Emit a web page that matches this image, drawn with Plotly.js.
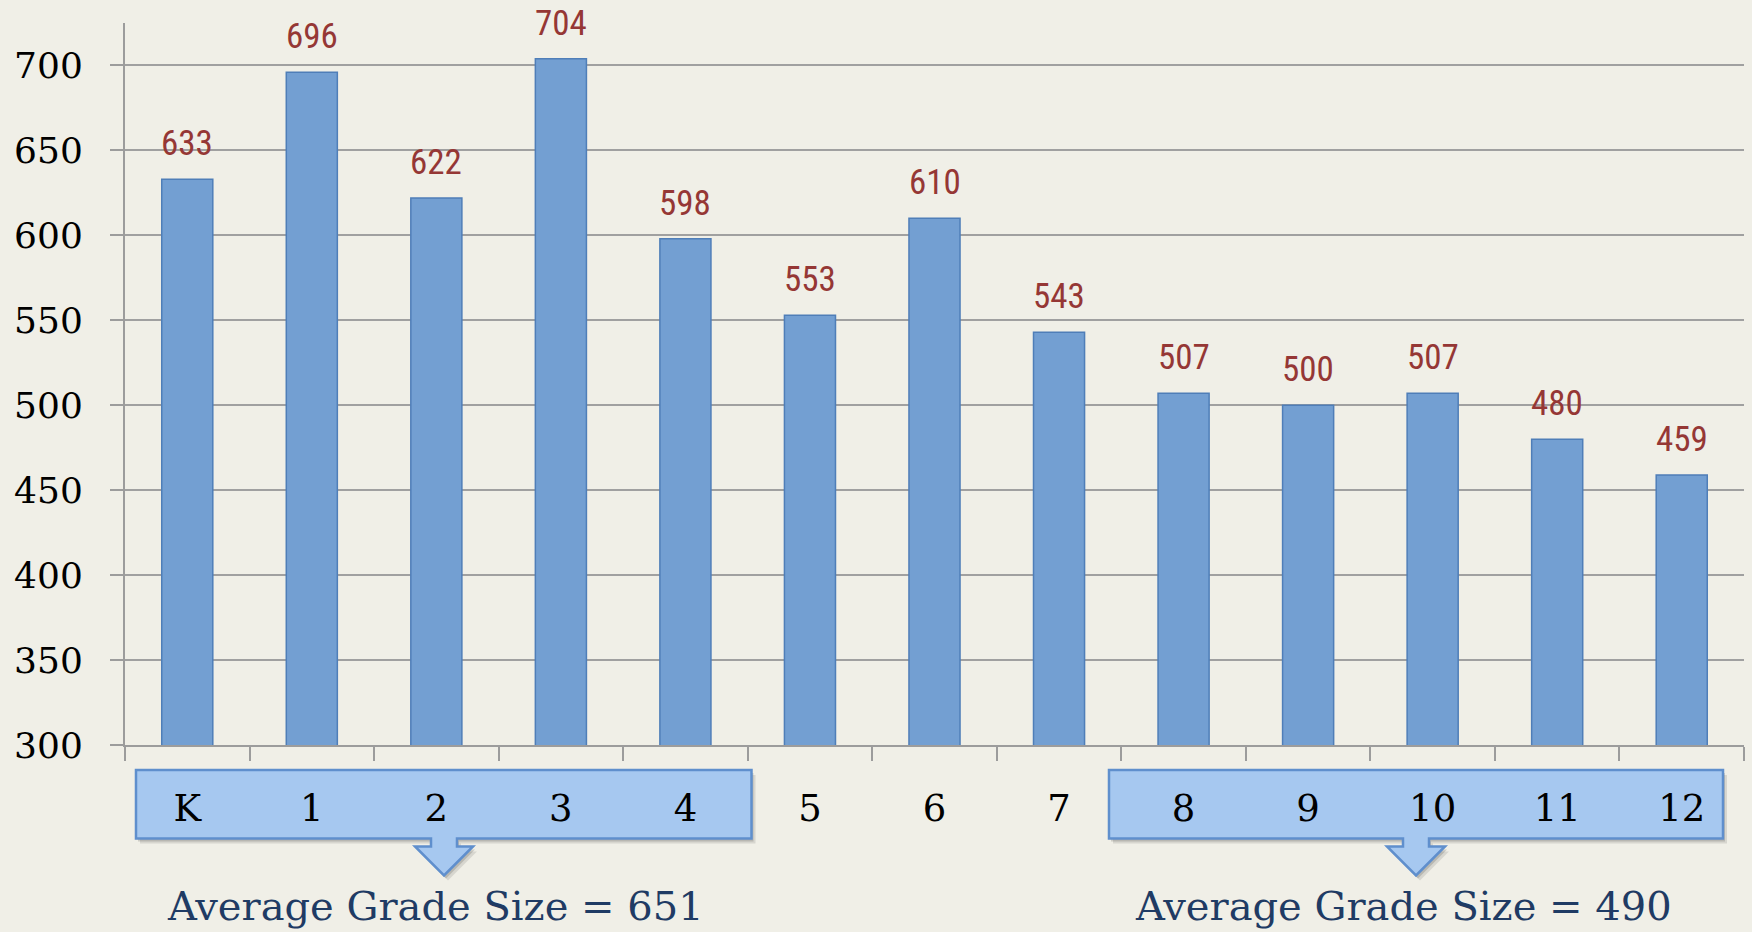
<!DOCTYPE html>
<html>
<head>
<meta charset="utf-8">
<script src="https://cdn.plot.ly/plotly-3.0.1.min.js"></script>
<style>
  html, body { margin: 0; padding: 0; background: #F0EFE7; }
  #chart { width: 1752px; height: 932px; }
</style>
</head>
<body>
<div id="chart"></div>
<script>
// ---- data ----
const grades = ['K', '1', '2', '3', '4', '5', '6', '7', '8', '9', '10', '11', '12'];
const enrollment = [633, 696, 622, 704, 598, 553, 610, 543, 507, 500, 507, 480, 459];
const groupLabels = ['Average Grade Size = 651', 'Average Grade Size = 490'];

// ---- layout geometry (pixels) ----
const W = 1752, H = 932;
const M = { l: 125, r: 8, t: 23, b: 187 };
const PW = W - M.l - M.r, PH = H - M.t - M.b;
const px = x => (x - M.l) / PW;        // pixel -> paper x
const py = y => (H - M.b - y) / PH;    // pixel -> paper y

function boxArrowPath(L, R, T, B, cx) {
  const pts = [
    [L, T], [R, T], [R, B], [cx + 13, B], [cx + 13, B + 8], [cx + 29, B + 8],
    [cx, B + 37], [cx - 29, B + 8], [cx - 13, B + 8], [cx - 13, B], [L, B]
  ];
  return 'M' + pts.map(p => px(p[0]).toFixed(5) + ',' + py(p[1]).toFixed(5)).join(' L') + ' Z';
}

const boxes = [
  { L: 136, R: 751.5, T: 770, B: 838.5, cx: 444, tx: 435 },
  { L: 1109, R: 1723, T: 770, B: 838.5, cx: 1416, tx: 1403 }
];

const shapes = [];
boxes.forEach(b => {
  // soft shadow
  shapes.push({ type: 'path', xref: 'paper', yref: 'paper', layer: 'below',
    path: boxArrowPath(b.L + 4, b.R + 4, b.T + 5, b.B + 5, b.cx + 4),
    fillcolor: 'rgba(0,0,0,0.10)', line: { width: 0 } });
  shapes.push({ type: 'path', xref: 'paper', yref: 'paper', layer: 'below',
    path: boxArrowPath(b.L + 2, b.R + 2, b.T + 3, b.B + 3, b.cx + 2),
    fillcolor: 'rgba(0,0,0,0.14)', line: { width: 0 } });
  shapes.push({ type: 'path', xref: 'paper', yref: 'paper', layer: 'below',
    path: boxArrowPath(b.L, b.R, b.T, b.B, b.cx),
    fillcolor: '#A6C8F0', line: { color: '#5F8FCD', width: 2.5 } });
});

const annotations = [];
// value labels above bars
grades.forEach((g, i) => {
  annotations.push({
    x: g, y: enrollment[i], xref: 'x', yref: 'y',
    text: String(enrollment[i]), showarrow: false,
    xanchor: 'center', yanchor: 'bottom', yshift: 13,
    font: { family: 'Liberation Sans Narrow, Arial Narrow, Roboto Condensed, Liberation Sans, sans-serif', size: 35, color: '#953735' }
  });
});
// group captions
boxes.forEach((b, i) => {
  annotations.push({
    x: px(b.tx), y: py(906), xref: 'paper', yref: 'paper',
    text: groupLabels[i], showarrow: false,
    xanchor: 'center', yanchor: 'middle',
    font: { family: 'DejaVu Serif, Georgia, serif', size: 40, color: '#1F3B64' }
  });
});

const trace = {
  type: 'bar',
  x: grades,
  y: enrollment,
  width: 0.41,
  marker: { color: '#739FD2', line: { color: '#4F7EB8', width: 1.5 } },
  hoverinfo: 'x+y'
};

const layout = {
  width: W, height: H,
  margin: M,
  paper_bgcolor: '#F0EFE7',
  plot_bgcolor: '#F0EFE7',
  showlegend: false,
  font: { family: 'DejaVu Serif, Georgia, serif', color: '#000000' },
  xaxis: {
    type: 'category',
    categoryorder: 'array', categoryarray: grades,
    range: [-0.5, 12.5],
    showline: true, linecolor: '#9C9C9C', linewidth: 2,
    ticks: 'outside', tickson: 'boundaries', ticklen: 14, tickwidth: 2, tickcolor: '#9C9C9C',
    showgrid: false,
    tickfont: { family: 'DejaVu Serif, Georgia, serif', size: 37, color: '#000000' },
    ticklabelstandoff: 30,
    fixedrange: true
  },
  yaxis: {
    range: [300, 725],
    tick0: 300, dtick: 50,
    showline: true, linecolor: '#9C9C9C', linewidth: 2,
    ticks: 'outside', ticklen: 13, tickwidth: 2, tickcolor: '#9C9C9C',
    showgrid: true, gridcolor: '#A0A0A0', gridwidth: 2,
    zeroline: false,
    tickfont: { family: 'DejaVu Serif, Georgia, serif', size: 36, color: '#000000' },
    ticklabelstandoff: 20,
    fixedrange: true
  },
  shapes: shapes,
  annotations: annotations
};

Plotly.newPlot('chart', [trace], layout, { displayModeBar: false, staticPlot: true });
</script>
</body>
</html>
